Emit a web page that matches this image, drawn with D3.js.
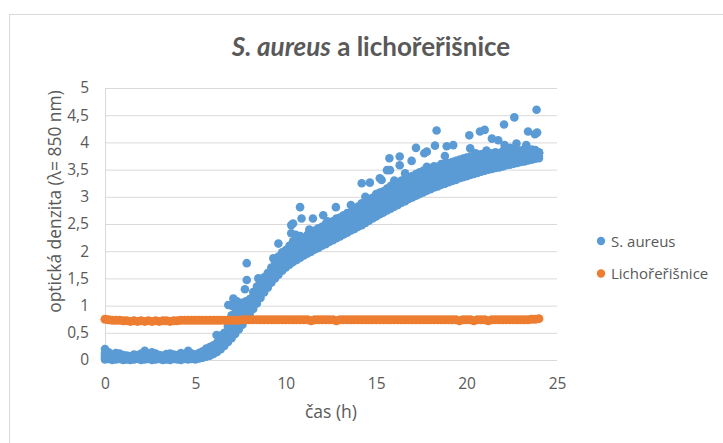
<!DOCTYPE html>
<html><head><meta charset="utf-8">
<script src="https://cdn.jsdelivr.net/npm/d3@7"></script>
<style>body{margin:0;background:#fff} svg{display:block}</style>
</head><body><svg id="c" width="723" height="443"></svg>
<script>
// ---------- data ----------
const timeH = [0,0.2,0.4,0.6,0.8,1,1.2,1.4,1.6,1.8,2,2.2,2.4,2.6,2.8,3,3.2,3.4,3.6,3.8,4,4.2,4.4,4.6,4.8,5,5.2,5.4,5.6,5.8,6,6.2,6.4,6.6,6.8,7,7.2,7.4,7.6,7.8,8,8.2,8.4,8.6,8.8,9,9.2,9.4,9.6,9.8,10,10.2,10.4,10.6,10.8,11,11.2,11.4,11.6,11.8,12,12.2,12.4,12.6,12.8,13,13.2,13.4,13.6,13.8,14,14.2,14.4,14.6,14.8,15,15.2,15.4,15.6,15.8,16,16.2,16.4,16.6,16.8,17,17.2,17.4,17.6,17.8,18,18.2,18.4,18.6,18.8,19,19.2,19.4,19.6,19.8,20,20.2,20.4,20.6,20.8,21,21.2,21.4,21.6,21.8,22,22.2,22.4,22.6,22.8,23,23.2,23.4,23.6,23.8,24];
const aureusLow = [0.01,0.02,0,0.01,0.02,0,0.01,0,0.01,0.02,0,0.01,0.02,0,0.01,0.02,0,0.01,0,0.02,0.01,0,0.02,0.01,0.02,0.01,0.03,0.04,0.06,0.08,0.11,0.15,0.2,0.26,0.33,0.4,0.48,0.56,0.65,0.74,0.84,0.94,1.04,1.14,1.24,1.33,1.42,1.5,1.57,1.64,1.7,1.75,1.8,1.84,1.88,1.92,1.96,1.99,2.03,2.06,2.1,2.13,2.17,2.2,2.24,2.27,2.31,2.34,2.38,2.41,2.45,2.48,2.52,2.56,2.6,2.64,2.68,2.71,2.75,2.78,2.82,2.85,2.89,2.92,2.96,2.99,3.02,3.05,3.08,3.11,3.14,3.17,3.19,3.22,3.24,3.27,3.29,3.31,3.34,3.36,3.38,3.4,3.42,3.44,3.46,3.48,3.5,3.51,3.53,3.54,3.56,3.58,3.59,3.61,3.62,3.64,3.65,3.67,3.68,3.7,3.71];
const aureusQ1 = [0.04,0.04,0.03,0.04,0.03,0.02,0.02,0.03,0.02,0.04,0.03,0.04,0.03,0.03,0.02,0.03,0.02,0.04,0.03,0.03,0.03,0.03,0.04,0.04,0.03,0.03,0.05,0.06,0.09,0.11,0.15,0.2,0.25,0.31,0.39,0.47,0.56,0.65,0.74,0.83,0.92,1.02,1.12,1.22,1.32,1.4,1.49,1.57,1.64,1.72,1.78,1.83,1.88,1.93,1.97,2.01,2.04,2.07,2.11,2.14,2.18,2.21,2.25,2.28,2.32,2.35,2.39,2.42,2.46,2.49,2.53,2.57,2.61,2.65,2.69,2.73,2.77,2.8,2.84,2.87,2.91,2.94,2.98,3.01,3.05,3.08,3.11,3.14,3.17,3.2,3.23,3.25,3.28,3.3,3.32,3.35,3.37,3.39,3.42,3.44,3.46,3.48,3.5,3.52,3.54,3.55,3.57,3.58,3.6,3.61,3.63,3.65,3.66,3.67,3.68,3.7,3.71,3.72,3.73,3.75,3.75];
const aureusMid = [0.08,0.06,0.05,0.07,0.05,0.04,0.03,0.05,0.04,0.06,0.05,0.07,0.05,0.06,0.04,0.05,0.04,0.06,0.05,0.04,0.06,0.05,0.06,0.07,0.05,0.06,0.08,0.09,0.12,0.15,0.19,0.24,0.3,0.37,0.45,0.55,0.65,0.74,0.83,0.92,1,1.1,1.2,1.3,1.4,1.48,1.56,1.64,1.72,1.8,1.86,1.92,1.97,2.02,2.06,2.1,2.13,2.16,2.2,2.23,2.27,2.3,2.34,2.37,2.41,2.44,2.48,2.51,2.55,2.58,2.62,2.66,2.7,2.74,2.78,2.82,2.86,2.9,2.94,2.97,3.01,3.04,3.08,3.11,3.14,3.17,3.2,3.23,3.26,3.29,3.32,3.34,3.37,3.39,3.41,3.44,3.46,3.48,3.5,3.52,3.54,3.56,3.58,3.6,3.62,3.63,3.65,3.66,3.68,3.69,3.7,3.72,3.73,3.74,3.75,3.76,3.77,3.78,3.79,3.8,3.8];
const aureusQ3 = [0.13,0.1,0.08,0.1,0.09,0.07,0.06,0.06,0.07,0.08,0.09,0.11,0.08,0.1,0.08,0.07,0.06,0.08,0.09,0.07,0.08,0.09,0.08,0.11,0.09,0.08,0.1,0.12,0.16,0.19,0.23,0.28,0.37,0.43,0.53,0.68,0.8,0.88,0.94,1,1.06,1.17,1.27,1.37,1.46,1.54,1.63,1.73,1.81,1.89,1.94,2.01,2.07,2.12,2.17,2.17,2.21,2.25,2.29,2.32,2.36,2.4,2.41,2.46,2.5,2.53,2.57,2.6,2.63,2.68,2.72,2.77,2.8,2.85,2.88,2.92,2.97,3,3.04,3.08,3.11,3.15,3.19,3.21,3.25,3.27,3.31,3.34,3.37,3.39,3.42,3.45,3.46,3.48,3.5,3.53,3.55,3.57,3.59,3.61,3.63,3.65,3.65,3.68,3.7,3.71,3.71,3.73,3.75,3.75,3.77,3.77,3.79,3.79,3.8,3.8,3.82,3.82,3.83,3.83,3.81];
const aureusHigh = [0.2,0.14,0.1,0.13,0.12,0.09,0.08,0.07,0.1,0.09,0.12,0.17,0.11,0.14,0.12,0.09,0.08,0.11,0.12,0.1,0.09,0.13,0.11,0.17,0.12,0.1,0.13,0.16,0.21,0.24,0.27,0.32,0.45,0.5,0.62,0.82,0.95,1.02,1.05,1.08,1.12,1.25,1.35,1.45,1.52,1.6,1.7,1.82,1.9,1.98,2.02,2.1,2.18,2.22,2.28,2.24,2.3,2.34,2.38,2.42,2.45,2.5,2.48,2.55,2.6,2.62,2.66,2.7,2.72,2.78,2.82,2.88,2.9,2.96,2.98,3.02,3.08,3.1,3.15,3.2,3.22,3.26,3.3,3.32,3.36,3.38,3.42,3.45,3.48,3.5,3.52,3.56,3.55,3.58,3.6,3.62,3.64,3.66,3.68,3.7,3.72,3.74,3.72,3.76,3.78,3.8,3.78,3.8,3.82,3.8,3.84,3.82,3.85,3.84,3.86,3.85,3.88,3.86,3.87,3.86,3.82];
const outlierT = [6.17,6.82,7.0,7.1,7.3,7.74,7.84,7.84,8.3,8.48,8.57,9.31,9.59,10.3,10.3,10.4,10.55,10.79,10.87,11.3,11.5,11.5,12.07,12.3,12.77,13.1,13.6,13.9,14.2,14.4,14.65,15.0,15.2,15.3,15.6,15.73,15.76,16.0,16.3,16.3,16.6,16.96,17.2,17.5,17.66,17.8,17.8,18.25,18.34,18.6,18.8,18.9,19.26,19.5,19.8,20.15,20.2,20.5,20.74,21.0,21.1,21.4,21.75,22.07,22.1,22.4,22.64,22.76,23.3,23.4,23.78,23.87,23.9,23.95,24.0];
const outlierV = [0.46,1.01,1.0,1.13,1.08,1.3,1.47,1.78,1.2,1.5,1.35,1.87,2.14,2.33,2.48,2.51,2.3,2.81,2.6,2.4,2.6,2.3,2.66,2.55,2.81,2.55,2.85,2.75,3.25,3.0,3.26,3.05,3.34,3.31,3.49,3.71,3.49,3.3,3.74,3.58,3.43,3.66,3.9,3.45,3.8,3.83,3.55,3.94,4.22,3.6,3.75,3.93,3.95,3.65,3.7,4.13,3.89,3.8,4.2,4.23,3.85,4.07,4.04,4.33,3.95,3.9,4.46,3.98,3.95,4.2,4.15,4.6,4.18,3.76,3.8];
const cressV = [0.75,0.74,0.73,0.73,0.73,0.72,0.72,0.71,0.72,0.71,0.72,0.71,0.72,0.71,0.72,0.71,0.72,0.72,0.71,0.72,0.72,0.73,0.73,0.73,0.73,0.73,0.73,0.73,0.73,0.73,0.73,0.73,0.73,0.73,0.73,0.73,0.73,0.73,0.74,0.74,0.74,0.74,0.74,0.74,0.74,0.74,0.74,0.74,0.74,0.74,0.74,0.74,0.74,0.74,0.74,0.74,0.74,0.72,0.74,0.74,0.74,0.74,0.74,0.74,0.72,0.74,0.74,0.74,0.74,0.74,0.74,0.74,0.74,0.74,0.74,0.74,0.74,0.74,0.74,0.74,0.74,0.74,0.74,0.74,0.74,0.74,0.74,0.74,0.74,0.74,0.74,0.74,0.74,0.74,0.74,0.74,0.74,0.74,0.72,0.74,0.74,0.74,0.72,0.74,0.74,0.74,0.72,0.74,0.74,0.74,0.74,0.74,0.74,0.74,0.74,0.74,0.74,0.74,0.75,0.75,0.76];
const xTicks = [0,5,10,15,20,25];
const xTickLabels = ["0","5","10","15","20","25"];
const yTicks = [0,0.5,1,1.5,2,2.5,3,3.5,4,4.5,5];
const yTickLabels = ["0","0,5","1","1,5","2","2,5","3","3,5","4","4,5","5"];
const seriesNames = ["S. aureus","Lichořeřišnice"];
const seriesColors = ["#5B9BD5","#ED7D31"];

// ---------- chart ----------
const svg = d3.select("#c");
const textCol = "#595959", gridCol = "#D9D9D9";
const x = d3.scaleLinear().domain([0,25]).range([105,557]);
const y = d3.scaleLinear().domain([0,5]).range([360,88]);

// chart frame
svg.append("rect").attr("x",9.5).attr("y",14.5).attr("width",760).attr("height",480)
  .attr("fill","#fff").attr("stroke",gridCol).attr("stroke-width",1);

// y axis with gridlines
const yAx = svg.append("g").attr("transform","translate(105,0)")
  .call(d3.axisLeft(y).tickValues(yTicks).tickFormat((d,i)=>yTickLabels[i])
    .tickSize(-(x(25)-x(0))).tickPadding(16));
yAx.select(".domain").remove();
yAx.selectAll("line").attr("stroke",gridCol);
yAx.selectAll("text").attr("fill",textCol).style("font-family","'Open Sans'").style("font-size","15.5px");
svg.append("line").attr("x1",105.5).attr("x2",105.5).attr("y1",y(5)).attr("y2",y(0)).attr("stroke",gridCol);

// x axis
const xAx = svg.append("g").attr("transform","translate(0,360)")
  .call(d3.axisBottom(x).tickValues(xTicks).tickFormat((d,i)=>xTickLabels[i]).tickSize(0).tickPadding(29));
xAx.select(".domain").remove();
xAx.selectAll("text").attr("fill",textCol).attr("dy",null).style("font-family","'Open Sans'").style("font-size","15.5px");

// series
const R = 4.3;
const gA = svg.append("g").attr("fill",seriesColors[0]);
[aureusLow, aureusQ1, aureusMid, aureusQ3, aureusHigh].forEach(arr=>{
  gA.selectAll(null).data(timeH.map((t,i)=>[t,arr[i]])).enter().append("circle")
    .attr("cx",d=>x(d[0])).attr("cy",d=>y(d[1])).attr("r",R);
});
gA.selectAll(null).data(outlierT.map((t,i)=>[t,outlierV[i]])).enter().append("circle")
  .attr("cx",d=>x(d[0])).attr("cy",d=>y(d[1])).attr("r",R);
const gC = svg.append("g").attr("fill",seriesColors[1]);
gC.selectAll(null).data(timeH.map((t,i)=>[t,cressV[i]])).enter().append("circle")
  .attr("cx",d=>x(d[0])).attr("cy",d=>y(d[1])).attr("r",4.5);

// titles
const title = svg.append("text").attr("x",371).attr("y",56).attr("text-anchor","middle")
  .attr("fill",textCol).style("font-family","Lato").style("font-weight","bold").style("font-size","26px");
title.append("tspan").attr("font-style","italic").text("S. aureus");
title.append("tspan").text(" a lichořeřišnice");

svg.append("text").attr("transform","translate(61,201.5) rotate(-90)").attr("text-anchor","middle")
  .attr("fill",textCol).style("font-family","'Open Sans'").style("font-size","17.4px")
  .text("optická denzita (λ= 850 nm)");
svg.append("text").attr("x",331).attr("y",418).attr("text-anchor","middle")
  .attr("fill",textCol).style("font-family","'Open Sans'").style("font-size","17.5px")
  .text("čas (h)");

// legend
const lg = svg.append("g");
seriesNames.forEach((n,i)=>{
  const yy = 241 + i*32.5;
  lg.append("circle").attr("cx",601).attr("cy",yy).attr("r",4.2).attr("fill",seriesColors[i]);
  lg.append("text").attr("x",611).attr("y",yy+5.5).attr("fill",textCol)
    .style("font-family","'Open Sans'").style("font-size","15px").text(n);
});
</script></body></html>
